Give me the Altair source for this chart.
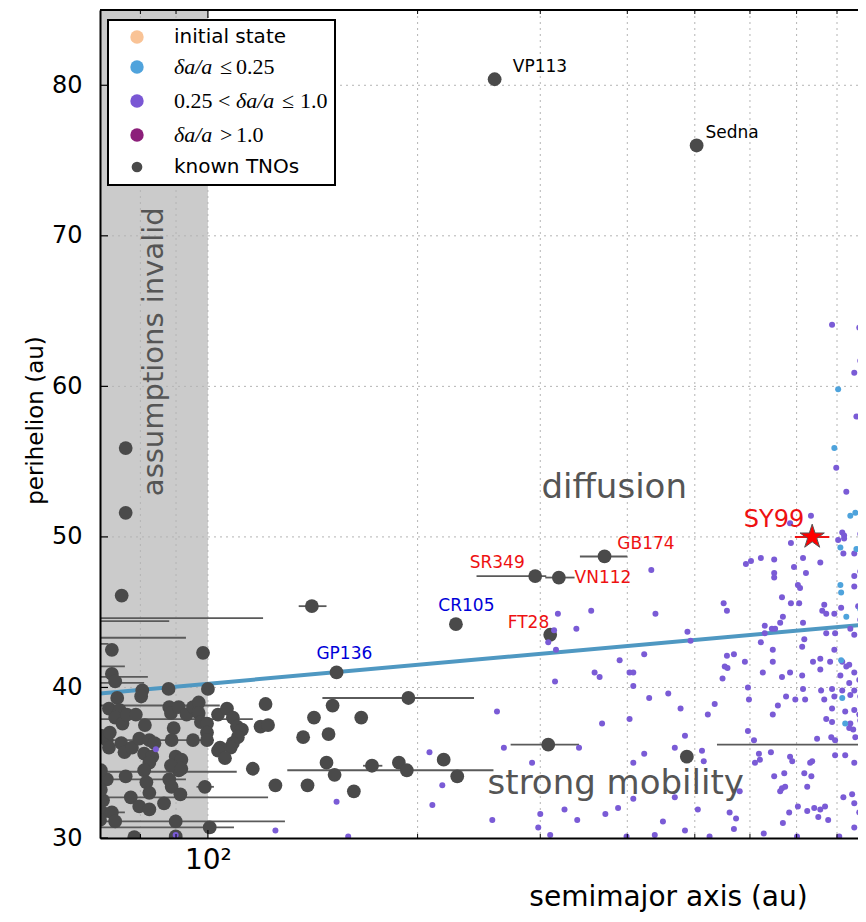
import altair as alt
import pandas as pd

# ---------------- values ----------------
# simulated particles, 0.25 < da/a <= 1.0 (purple)
purple_a = [318, 355, 433, 439, 338, 314, 308, 316, 423, 488, 493, 390, 359, 365, 315, 403, 403, 260, 368, 208,
            266, 341, 292, 217, 210, 256, 300, 325, 339, 372, 388, 298, 310, 399, 153, 125, 159, 89.9, 84.2, 550,
            556, 630, 645, 652, 669, 663, 687, 706, 715, 767, 762, 772, 811, 793, 858, 864, 630, 622, 647, 713,
            718, 772, 795, 836, 847, 876, 408, 408, 430, 458, 477, 522, 534, 556, 569, 590, 647, 552, 557, 548,
            626, 667, 685, 713, 739, 757, 782, 814, 793, 757, 825, 833, 847, 809, 861, 833, 879, 596, 676, 697,
            720, 759, 767, 793, 847, 870, 864, 787, 814, 836, 598, 658, 647, 715, 787, 772, 787, 822, 847, 861,
            864, 836, 879, 596, 608, 749, 785, 795, 833, 844, 850, 876, 876, 484, 468, 512, 515, 423, 408, 618,
            610, 620, 643, 685, 690, 737, 732, 795, 822, 847, 876, 580, 667, 663, 674, 725, 672, 650, 718, 735,
            817, 841, 876, 870, 408, 468, 505, 561, 573, 683, 703, 725, 742, 757, 769, 752, 777, 847, 861, 847,
            450, 484, 438, 525, 569, 628, 669, 701, 806, 876, 787, 861, 864, 847, 853, 798, 825, 878, 734, 685,
            687, 814, 819, 803, 819, 864, 817, 847, 878, 592, 602, 622, 650, 715, 757, 694, 722, 650, 650, 847,
            847, 867, 864, 703, 708, 667]
purple_q = [44.9, 45.1, 47.8, 44.9, 43.9, 43.8, 43.0, 42.5, 42.2, 43.7, 43.1, 41.8, 41.0, 40.7, 40.4, 41.0, 37.9, 38.4, 37.6, 35.7,
            36.0, 36.0, 35.0, 33.5, 32.2, 31.2, 31.6, 31.9, 31.2, 31.6, 32.0, 30.7, 30.2, 30.1, 32.4, 30.5, 30.1, 30.2, 35.9, 45.6,
            45.1, 44.1, 43.9, 43.9, 44.7, 44.3, 45.6, 45.6, 44.3, 45.5, 45.1, 44.9, 45.3, 44.9, 45.4, 44.5, 43.6, 43.0, 42.5, 42.7,
            43.2, 43.6, 43.6, 43.9, 43.5, 44.1, 41.0, 40.1, 39.3, 39.6, 38.6, 38.2, 38.9, 42.1, 42.2, 41.7, 41.7, 41.4, 41.3, 40.6,
            41.0, 40.7, 41.0, 40.8, 41.7, 41.9, 41.7, 41.7, 42.5, 41.2, 41.4, 41.5, 41.0, 40.8, 40.5, 40.3, 41.2, 40.0, 39.4, 39.2,
            39.2, 39.8, 39.2, 39.4, 39.8, 39.8, 39.4, 39.9, 39.8, 39.5, 39.2, 38.8, 38.2, 39.9, 38.6, 37.9, 37.7, 38.4, 38.5, 38.2,
            37.8, 37.6, 37.4, 37.1, 36.5, 36.6, 36.7, 36.5, 37.3, 37.2, 36.7, 36.5, 37.0, 36.8, 36.0, 35.8, 35.1, 35.6, 35.0, 35.6,
            35.0, 35.2, 35.7, 35.4, 35.1, 35.1, 35.0, 35.5, 35.5, 35.0, 35.2, 33.1, 33.3, 33.1, 33.4, 33.4, 34.3, 34.1, 34.3, 34.1,
            32.7, 32.9, 33.4, 34.1, 32.6, 32.7, 31.9, 31.7, 31.3, 31.7, 32.1, 31.8, 32.0, 31.9, 32.1, 31.4, 31.2, 30.7, 31.7, 32.3,
            31.1, 30.5, 30.2, 30.1, 30.6, 30.3, 31.0, 30.1, 30.1, 30.1, 64.1, 63.9, 61.7, 60.9, 58.0, 54.6, 53.0, 52.0, 51.4, 50.9,
            49.6, 50.3, 50.1, 49.8, 49.9, 50.2, 48.9, 48.9, 48.7, 48.2, 48.4, 48.6, 48.5, 48.6, 48.3, 48.0, 47.6, 47.6, 47.3, 47.4,
            46.7, 47.9, 47.7, 46.8, 46.6, 46.0]

# simulated particles, da/a <= 0.25 (blue)
blue_a = [876, 803, 867, 793, 836, 850, 809, 853, 809, 811, 876, 879, 864, 825, 876, 811, 878, 814, 822, 878]
blue_q = [64.5, 59.8, 59.7, 55.9, 51.4, 51.6, 49.3, 49.2, 46.8, 46.3, 45.9, 47.9, 45.2, 44.7, 42.6, 41.8, 40.0, 39.3, 37.6, 34.6]

# known TNOs (unlabelled)
tno_a = [75.2, 76.2, 76.2, 141, 194, 121, 151, 142, 166, 119, 122, 137, 149, 116, 125, 139, 148, 152, 162, 172,
         188, 193, 218, 228, 308, 487, 98.4,
         72.8, 72.8, 73.6, 80.5, 80.2, 87.8, 100.0, 74.1, 72.1, 74.7, 73.6, 75.4, 76.5, 78.8, 81.2, 88.0, 88.5, 90.8,
         93.2, 95.2, 97.0, 97.0, 97.7, 99.7, 99.7, 89.3, 88.7, 95.2, 99.7, 103.4, 106.5, 108.6, 110.1, 111.9, 110.4,
         108.6, 107.8, 104.1, 103.4, 105.8, 71.6, 72.1, 75.1, 75.9, 77.8, 79.7, 82.4, 83.8, 81.0, 83.2, 82.4, 89.9,
         91.6, 90.8, 88.5, 91.6, 76.2, 71.6, 70.7, 70.5, 81.0, 81.6, 82.4, 88.0, 88.7, 91.3, 77.5, 79.7, 82.4, 86.5,
         99.0, 72.8, 73.6, 89.9, 100.6, 78.4, 89.9, 70.2, 70.2, 70.2, 70.0, 72.3]
tno_q = [46.1, 55.9, 51.6, 45.4, 39.3, 38.9, 38.8, 38.0, 38.0, 37.4, 37.5, 36.7, 36.9, 34.6, 33.5, 33.5, 35.0, 34.2, 33.1, 34.8,
         35.0, 34.5, 35.2, 34.1, 36.2, 35.4, 42.3,
         42.5, 40.9, 40.4, 39.8, 39.4, 39.9, 39.9, 39.3, 38.6, 38.5, 38.0, 37.6, 38.2, 38.2, 37.5, 38.7, 38.3, 38.7,
         38.2, 38.7, 39.0, 38.3, 37.7, 37.6, 37.0, 37.3, 36.5, 36.5, 36.5, 38.2, 38.6, 38.0, 37.4, 37.2, 36.7,
         36.3, 36.0, 36.0, 35.8, 35.3, 36.5, 36.0, 36.3, 35.7, 36.0, 36.6, 36.5, 36.3, 35.6, 35.4, 35.0, 35.4,
         35.2, 34.5, 34.8, 34.6, 34.1, 33.9, 32.5, 31.7, 34.5, 33.7, 33.0, 33.9, 33.4, 32.9, 32.7, 32.1, 31.9, 32.3,
         33.4, 31.7, 31.1, 31.1, 30.7, 30.05, 30.1, 36.8, 34.5, 33.2, 31.2, 37.0]

# horizontal uncertainty bars of known TNOs
bar_q = [45.4, 39.3, 34.8, 34.5, 36.2, 33.4, 36.2, 44.6, 44.4, 43.3, 42.9, 41.4, 40.7, 40.3, 38.8, 37.9, 36.5,
         34.4, 33.9, 32.7, 31.7, 31.1, 30.7]
bar_lo = [135, 146, 167, 130, 272, 96.3, 538, 50, 50, 50, 50, 50, 50, 50, 50, 50, 50, 50, 50, 50, 50, 50, 50]
bar_hi = [148, 241, 178, 257, 341, 102, 2000, 120, 88, 93, 72, 76, 82, 81, 104, 116, 102, 110, 93, 122, 76, 129, 109]

# labelled objects
named = ["VP113", "Sedna", "GP136", "CR105", "SR349", "VN112", "GB174", "FT28", "SY99"]
named_a = [258, 503, 153, 227, 295, 319, 371, 310, 737]
named_q = [80.4, 76.0, 41.0, 44.2, 47.4, 47.3, 48.7, 43.5, 50.0]
named_lo = [258, 503, 153, 227, 243, 305, 342, 310, 696]
named_hi = [258, 503, 153, 227, 306, 336, 400, 310, 780]
label_a = [274, 518, 157, 235, 285, 336, 387, 309, 718]
label_q = [81.2, 76.8, 42.2, 45.4, 48.3, 47.3, 49.5, 44.3, 51.1]

fit_a = [70, 3000]
fit_q = [39.6, 46.4]
band_a = [70, 100]

x_grid = [80, 90, 100, 200, 300, 400, 500, 600, 700, 800]
x_major = [100]
x_minor = [80, 90, 200, 300, 400, 500, 600, 700, 800]
y_ticks = [30, 40, 50, 60, 70, 80]
y_grid = [40, 50, 60, 70, 80]

ann_text = ["assumptions invalid", "diffusion", "strong mobility"]
ann_a = [83.6, 383, 385]
ann_q = [62.3, 52.6, 32.9]

legend_labels = ["initial state", "δa/a ≤ 0.25", "0.25 < δa/a ≤ 1.0", "δa/a > 1.0", "known TNOs"]
legend_colors = ["#f9c396", "#50a3dc", "#7a57d4", "#8c1f7a", "#4a4a4a"]

# ---------------- chart ----------------
W, H = 758, 828
FONT = "DejaVu Sans"
STAR = ("M0,-1 L0.2245,-0.309 L0.951,-0.309 L0.363,0.118 L0.588,0.809 L0,0.382 "
        "L-0.588,0.809 L-0.363,0.118 L-0.951,-0.309 L-0.2245,-0.309 Z")
XSCALE = alt.Scale(type="log", domain=[70, 857.5], nice=False)
YSCALE = alt.Scale(domain=[30, 85], nice=False, zero=False)
XAXIS = alt.Axis(values=x_grid, labelExpr="datum.value == 100 ? '10²' : ''", grid=False, ticks=False,
                 tickSize=0, domainColor="black", domainWidth=2, labelFont=FONT, labelFontSize=28,
                 labelColor="black", labelPadding=8, labelBaseline="top", labelFlush=False,
                 labelOverlap=False, labelBound=False, title="semimajor axis (au)", titleFont=FONT,
                 titleFontSize=28, titleFontWeight="normal", titleColor="black", titleX=568, titleY=67,
                 titleBaseline="alphabetic", titleAlign="center", zindex=1)
YAXIS = alt.Axis(values=y_ticks, grid=False, ticks=False, tickSize=0, domainColor="black", domainWidth=2,
                 labelFont=FONT, labelFontSize=24, labelColor="black", labelPadding=18, labelFlush=False,
                 labelOverlap=False, title="perihelion (au)", titleFont=FONT, titleFontSize=23,
                 titleFontWeight="normal", titleColor="black", titleX=-65, titleY=410, titleAngle=270,
                 titleBaseline="middle", titleAlign="center", zindex=1)


def X(f):
    return alt.X(f"{f}:Q", scale=XSCALE, axis=XAXIS)


def Y(f):
    return alt.Y(f"{f}:Q", scale=YSCALE, axis=YAXIS)


one = pd.DataFrame({"k": [0]})
band = pd.DataFrame({"a0": [band_a[0]], "a1": [band_a[1]]})
xg = pd.DataFrame({"v": x_grid})
yg = pd.DataFrame({"v": y_grid})
xmaj = pd.DataFrame({"v": x_major})
xmin = pd.DataFrame({"v": x_minor})
yt = pd.DataFrame({"v": y_ticks})
purple = pd.DataFrame({"a": purple_a, "q": purple_q})
blue = pd.DataFrame({"a": blue_a, "q": blue_q})
tno = pd.DataFrame({"a": tno_a, "q": tno_q})
bars = pd.DataFrame({"q": bar_q, "lo": bar_lo, "hi": bar_hi})
nm = pd.DataFrame({"name": named, "a": named_a, "q": named_q, "lo": named_lo, "hi": named_hi,
                   "la": label_a, "lq": label_q})
fit = pd.DataFrame({"a": fit_a, "q": fit_q})
ann = pd.DataFrame({"t": ann_text, "a": ann_a, "q": ann_q})

layers = []
layers.append(alt.Chart(band).mark_rect(color="#cbcbcb").encode(x=X("a0"), x2=alt.X2("a1")))
layers.append(alt.Chart(xg).mark_rule(color="#b4b4b4", strokeWidth=1, strokeDash=[2, 4]).encode(x=X("v")))
layers.append(alt.Chart(yg).mark_rule(color="#b4b4b4", strokeWidth=1, strokeDash=[2, 4]).encode(y=Y("v")))
layers.append(alt.Chart(fit).mark_line(color="#4f98c2", strokeWidth=4, clip=True).encode(x=X("a"), y=Y("q")))
layers.append(alt.Chart(bars).mark_rule(color="#5a5a5a", strokeWidth=1.8, clip=True)
              .encode(x=X("lo"), x2=alt.X2("hi"), y=Y("q")))
not_sy99 = alt.FieldOneOfPredicate(field="name", oneOf=named[:-1])
layers.append(alt.Chart(nm).transform_filter(not_sy99).mark_rule(color="#5a5a5a", strokeWidth=1.8)
              .encode(x=X("lo"), x2=alt.X2("hi"), y=Y("q")))
layers.append(alt.Chart(tno).mark_circle(size=190, color="#4a4a4a", opacity=1, clip=True)
              .encode(x=X("a"), y=Y("q")))
layers.append(alt.Chart(nm).transform_filter(not_sy99).mark_circle(size=190, color="#4a4a4a", opacity=1)
              .encode(x=X("a"), y=Y("q")))
layers.append(alt.Chart(purple).mark_circle(size=36, color="#7a5bd6", opacity=1, clip=True)
              .encode(x=X("a"), y=Y("q")))
layers.append(alt.Chart(blue).mark_circle(size=36, color="#4ea3dc", opacity=1, clip=True)
              .encode(x=X("a"), y=Y("q")))
# SY99
is_sy99 = alt.FieldEqualPredicate(field="name", equal="SY99")
layers.append(alt.Chart(nm).transform_filter(is_sy99).mark_rule(color="#ee1111", strokeWidth=2)
              .encode(x=X("lo"), x2=alt.X2("hi"), y=Y("q")))
layers.append(alt.Chart(nm).transform_filter(is_sy99)
              .mark_point(shape=STAR, filled=True, size=650, fill="#ff0000", stroke="#555555",
                          strokeWidth=1, opacity=1)
              .encode(x=X("a"), y=Y("q")))


def name_labels(names, color, align, size=17):
    return (alt.Chart(nm).transform_filter(alt.FieldOneOfPredicate(field="name", oneOf=names))
            .mark_text(font=FONT, fontSize=size, color=color, align=align, baseline="middle")
            .encode(x=X("la"), y=Y("lq"), text="name:N"))


layers.append(name_labels(["VP113", "Sedna"], "black", "left"))
layers.append(name_labels(["GP136", "CR105"], "#0000d8", "center"))
layers.append(name_labels(["VN112", "GB174"], "#ee1111", "left"))
layers.append(name_labels(["SR349", "FT28"], "#ee1111", "right"))
layers.append(name_labels(["SY99"], "#ee1111", "right", size=24))

# region annotations
layers.append(alt.Chart(ann).transform_filter(alt.FieldEqualPredicate(field="t", equal="assumptions invalid"))
              .mark_text(font=FONT, fontSize=29, color="#555555", angle=270, align="center", baseline="middle")
              .encode(x=X("a"), y=Y("q"), text="t:N"))
layers.append(alt.Chart(ann).transform_filter(alt.FieldOneOfPredicate(field="t", oneOf=ann_text[1:]))
              .mark_text(font=FONT, fontSize=34, color="#555555", align="center", baseline="alphabetic")
              .encode(x=X("a"), y=Y("q"), text="t:N"))

# inward ticks and top spine
layers.append(alt.Chart(xmaj).mark_rule(color="black", strokeWidth=1.2)
              .encode(x=X("v"), y=alt.value(H), y2=alt.value(H - 8)))
layers.append(alt.Chart(xmin).mark_rule(color="black", strokeWidth=1)
              .encode(x=X("v"), y=alt.value(H), y2=alt.value(H - 4)))
layers.append(alt.Chart(xmaj).mark_rule(color="black", strokeWidth=1.2)
              .encode(x=X("v"), y=alt.value(0), y2=alt.value(8)))
layers.append(alt.Chart(xmin).mark_rule(color="black", strokeWidth=1)
              .encode(x=X("v"), y=alt.value(0), y2=alt.value(4)))
layers.append(alt.Chart(yt).mark_rule(color="black", strokeWidth=1.2)
              .encode(y=Y("v"), x=alt.value(0), x2=alt.value(8)))
layers.append(alt.Chart(one).mark_rule(color="black", strokeWidth=2)
              .encode(x=alt.value(0), x2=alt.value(W), y=alt.value(0)))

# legend (drawn by hand)
layers.append(alt.Chart(one).mark_rect(fill="white", stroke="black", strokeWidth=2)
              .encode(x=alt.value(8), x2=alt.value(235), y=alt.value(10), y2=alt.value(175)))
leg_y = [27, 57, 91, 125, 157]
for i, (lab, col) in enumerate(zip(legend_labels, legend_colors)):
    layers.append(alt.Chart(one).mark_circle(size=(115 if i == 4 else 180), color=col, opacity=1)
                  .encode(x=alt.value(37), y=alt.value(leg_y[i])))


def vtext(s, x, y, size, font=FONT, style="normal"):
    return (alt.Chart(one).mark_text(font=font, fontSize=size, fontStyle=style, color="black",
                                     align="left", baseline="middle")
            .encode(x=alt.value(x), y=alt.value(y), text=alt.value(s)))


SERIF = "Liberation Serif"
MS = 22
layers.append(vtext(legend_labels[0], 74, leg_y[0], 20))
layers.append(vtext(legend_labels[4], 74, leg_y[4], 20))
# δa/a ≤ 0.25
layers.append(vtext("δa/a", 74, leg_y[1], MS, SERIF, "italic"))
layers.append(vtext("≤", 120, leg_y[1], MS, SERIF))
layers.append(vtext("0.25", 136, leg_y[1], MS, SERIF))
# 0.25 < δa/a ≤ 1.0
layers.append(vtext("0.25", 74, leg_y[2], MS, SERIF))
layers.append(vtext("<", 118, leg_y[2], MS, SERIF))
layers.append(vtext("δa/a", 136, leg_y[2], MS, SERIF, "italic"))
layers.append(vtext("≤", 182, leg_y[2], MS, SERIF))
layers.append(vtext("1.0", 200, leg_y[2], MS, SERIF))
# δa/a > 1.0
layers.append(vtext("δa/a", 74, leg_y[3], MS, SERIF, "italic"))
layers.append(vtext(">", 120, leg_y[3], MS, SERIF))
layers.append(vtext("1.0", 136, leg_y[3], MS, SERIF))

chart = (alt.layer(*layers)
         .properties(width=W, height=H, autosize=alt.AutoSizeParams(type="none"),
                     padding={"left": 92, "top": 2, "right": 0, "bottom": 76})
         .configure_view(stroke=None)
         .configure(font=FONT))

chart.save("out.html", embed_options={"renderer": "svg", "actions": False})
